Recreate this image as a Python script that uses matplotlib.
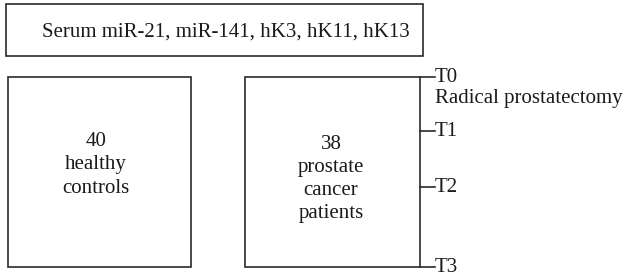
import matplotlib.pyplot as plt
from matplotlib.patches import Rectangle

plt.rcParams['font.family'] = ['Liberation Serif', 'DejaVu Serif']

header = "Serum miR-21, miR-141, hK3, hK11, hK13"
groups = ["40\nhealthy\ncontrols", "38\nprostate\ncancer\npatients"]
timepoints = ["T0", "T1", "T2", "T3"]
time_y = [77, 131, 187, 267]  # pixel rows of the time marks
event_label = "Radical prostatectomy"

fig = plt.figure(figsize=(6.25, 2.79), dpi=100)
ax = fig.add_axes([0, 0, 1, 1])
ax.set_xlim(0, 625)
ax.set_ylim(279, 0)
ax.axis('off')

lw = 1.2
ec = '#2a2a2a'
fs = 15
tc = '#1a1a1a'

# top box
ax.add_patch(Rectangle((6, 4), 417, 52, fill=False, ec=ec, lw=lw))
ax.text(226, 32, header, ha='center', va='center', fontsize=fs, color=tc)

# group boxes
ax.add_patch(Rectangle((8, 77), 183, 190, fill=False, ec=ec, lw=lw))
ax.add_patch(Rectangle((245, 77), 175, 190, fill=False, ec=ec, lw=lw))
ax.text(96, 165, groups[0], ha='center', va='center', fontsize=fs,
        linespacing=1.3, color=tc)
ax.text(331, 179, groups[1], ha='center', va='center', fontsize=fs,
        linespacing=1.3, color=tc)

# time marks
for lab, y in zip(timepoints, time_y):
    ax.plot([420, 435], [y, y], color=ec, lw=lw)
    ax.text(435, y, lab, ha='left', va='center', fontsize=fs, color=tc)
ax.text(435, 98, event_label, ha='left', va='center', fontsize=fs, color=tc)

fig.savefig('out.png', dpi=100)
